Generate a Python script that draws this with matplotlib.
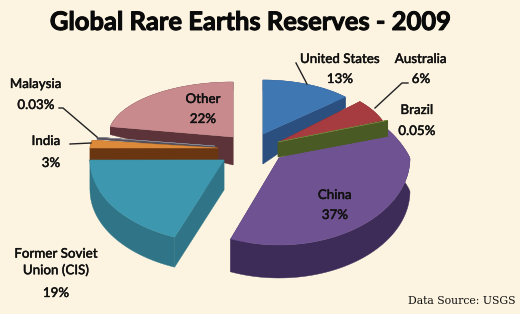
import numpy as np
import matplotlib
matplotlib.use("Agg")
import matplotlib.pyplot as plt
import matplotlib.patheffects as pe

names = ["United States", "Australia", "Brazil", "China", "Former Soviet\nUnion (CIS)", "India", "Malaysia", "Other"]
shares = [13, 6, 0.05, 37, 19, 3, 0.03, 22]
share_labels = ["13%", "6%", "0.05%", "37%", "19%", "3%", "0.03%", "22%"]

top_colors = ["#3f77b3", "#a63c40", "#7a8a3c", "#6f5291", "#3d97ae", "#dc8a3a", "#8f8f9c", "#c98a8e"]
wall_colors = ["#2b507f", "#6e1e20", "#4a5a25", "#3d2c58", "#2f7587", "#6a3612", "#55505a", "#5c3339"]

# slices are not on one ellipse in the original (perspective), so each has its own
cx = [263, 279, 278, 279, 224, 218, 215, 233]
cy = [134, 142, 142, 158, 160, 148, 146, 137]
rx = [113, 111, 118, 131, 134, 128, 120, 125]
ry = [54, 59, 59, 87, 83, 42, 47, 55]
shrink_back = [0, 0, 0, 0.33, 0, 0, 0, 0]
depth_rim = [11, 3, 16, 33, 30, 13, 2, 8]
depth_apex = [30, 3, 15, 33, 30, 14, 2, 28]
draw_order = [7, 6, 5, 4, 0, 3, 1, 2]

fig = plt.figure(figsize=(5.2, 3.14), dpi=100, facecolor="#fcf4e1")
ax = fig.add_axes([0, 0, 1, 1])
ax.set_xlim(0, 520)
ax.set_ylim(314, 0)
ax.axis("off")

total = sum(shares)
edges = np.concatenate([[0], np.cumsum(shares)]) / total * 2 * np.pi

for i in draw_order:
    t = np.linspace(edges[i], edges[i + 1], 80)
    s = 1 / (1 + shrink_back[i] * np.clip(np.cos(t), 0, None))
    x = cx[i] + rx[i] * np.sin(t) * s
    y = cy[i] - ry[i] * np.cos(t) * s
    wc = wall_colors[i]
    # cut faces, then the rim, then the top
    for k in [0, -1]:
        ax.fill([cx[i], x[k], x[k], cx[i]],
                [cy[i], y[k], y[k] + depth_rim[i], cy[i] + depth_apex[i]], color=wc, lw=0.3)
    ax.fill(np.r_[x, x[::-1]], np.r_[y, y[::-1] + depth_rim[i]], color=wc, lw=0.3)
    ax.fill(np.r_[cx[i], x], np.r_[cy[i], y], color=top_colors[i], lw=0.3)

fatten = [pe.withStroke(linewidth=0.25, foreground="#111111")]
label_font = dict(family="Lato", fontsize=9.6, fontweight="medium", color="#111111", ha="center", va="center",
                  path_effects=fatten)
name_pos = [(340, 59), (421, 59), (417, 110), (335, 195), (56, 262), (46, 141), (36, 84), (203, 99)]
share_pos = [(340, 79), (421, 79), (417, 131), (335, 215), (56, 293), (51, 163), (36, 105), (203, 119)]
for i in range(len(names)):
    ax.text(*name_pos[i], names[i], linespacing=1.38, **label_font)
    ax.text(*share_pos[i], share_labels[i], **label_font)

# leader lines
ax.plot([59, 63, 97], [108, 108, 137], color="#222222", lw=1)
ax.plot([70, 91], [144, 143], color="#222222", lw=1)
ax.plot([296, 307], [63, 84], color="#222222", lw=1)
ax.plot([408, 402, 375], [83, 83, 108], color="#222222", lw=1)

ax.text(250, 22, "Global Rare Earths Reserves - 2009", family="Lato", fontsize=18.4, fontweight="bold",
        color="#0a0a0a", ha="center", va="center",
        path_effects=[pe.withStroke(linewidth=0.7, foreground="#0a0a0a")])
ax.text(516, 301, "Data Source: USGS", family="DejaVu Serif", fontsize=7.8, color="#111111", ha="right", va="center")

fig.savefig("out.png", dpi=100, facecolor=fig.get_facecolor())
